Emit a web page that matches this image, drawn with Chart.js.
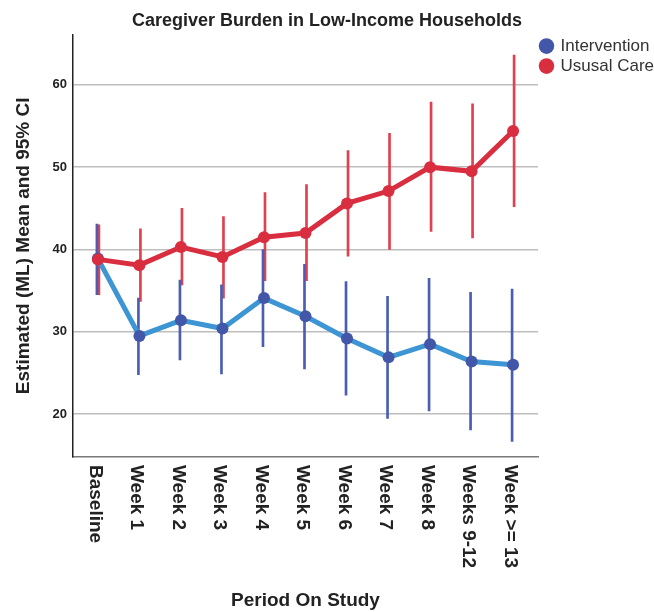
<!DOCTYPE html>
<html>
<head>
<meta charset="utf-8">
<script src="https://cdn.jsdelivr.net/npm/chart.js@4.4.1/dist/chart.umd.min.js"></script>
<style>
  html, body { margin: 0; padding: 0; background: #fff; }
  #wrap { width: 654px; height: 612px; position: relative; }
</style>
</head>
<body>
<div id="wrap"><canvas id="burdenChart"></canvas></div>
<script>
// Period categories and estimated means with 95% CI
const periods = ['Baseline', 'Week 1', 'Week 2', 'Week 3', 'Week 4', 'Week 5', 'Week 6', 'Week 7', 'Week 8', 'Weeks 9-12', 'Week >= 13'];

const interventionMean = [38.9, 29.5, 31.4, 30.4, 34.1, 31.9, 29.2, 26.9, 28.5, 26.4, 26.0];
const interventionLow = [34.5, 24.8, 26.6, 24.9, 28.2, 25.5, 22.3, 19.5, 20.4, 18.1, 16.7];
const interventionHigh = [43.1, 34.1, 36.3, 35.7, 40.0, 38.2, 36.1, 34.3, 36.5, 34.8, 35.2];

const usualMean = [38.8, 38.1, 40.3, 39.1, 41.5, 42.0, 45.6, 47.1, 50.0, 49.5, 54.4];
const usualLow = [34.5, 33.7, 35.7, 34.1, 36.2, 36.2, 39.2, 40.0, 42.2, 41.4, 45.2];
const usualHigh = [43.0, 42.5, 45.0, 44.0, 46.9, 47.9, 52.0, 54.1, 57.9, 57.7, 63.6];

const yTicks = [20, 30, 40, 50, 60];

const FONT = 'Arial, "Liberation Sans", Helvetica, sans-serif';
const TEXT = '#222';

const toPoints = (vals) => vals.map((v, i) => ({ x: i, y: v }));
const toRanges = (lo, hi) => lo.map((v, i) => ({ x: i, y: [v, hi[i]] }));

// category labels read top-to-bottom (rotated clockwise), so draw them here
const periodLabels = {
  id: 'periodLabels',
  afterDraw(chart) {
    const { ctx, chartArea } = chart;
    const xScale = chart.scales.x;
    ctx.save();
    ctx.font = `bold 19px ${FONT}`;
    ctx.fillStyle = TEXT;
    ctx.textAlign = 'left';
    ctx.textBaseline = 'middle';
    periods.forEach((label, i) => {
      const x = xScale.getPixelForValue(i) - 3;
      ctx.save();
      ctx.translate(x, chartArea.bottom + 8);
      ctx.rotate(Math.PI / 2);
      ctx.fillText(label, 0, 0);
      ctx.restore();
    });
    ctx.restore();
  },
};

function initChart() {
  const ctx = document.getElementById('burdenChart');

  new Chart(ctx, {
    type: 'line',
    data: {
      datasets: [
        {
          label: 'Intervention',
          data: toPoints(interventionMean),
          borderColor: '#3d95d3',
          backgroundColor: '#4357a8',
          pointBackgroundColor: '#4357a8',
          pointBorderWidth: 0,
          pointRadius: 6,
          borderWidth: 5,
          tension: 0,
          order: 1,
        },
        {
          label: 'Ususal Care',
          data: toPoints(usualMean),
          borderColor: '#d92e3f',
          backgroundColor: '#d92e3f',
          pointBackgroundColor: '#d92e3f',
          pointBorderWidth: 0,
          pointRadius: 6,
          borderWidth: 5,
          tension: 0,
          order: 0,
        },
        {
          type: 'bar',
          label: 'Intervention CI',
          data: toRanges(interventionLow, interventionHigh),
          backgroundColor: '#4a5db2',
          barThickness: 2,
          borderWidth: 0,
          order: 2,
        },
        {
          type: 'bar',
          label: 'Usual Care CI',
          data: toRanges(usualLow, usualHigh),
          backgroundColor: '#e0404f',
          barThickness: 2,
          borderWidth: 0,
          order: 3,
        },
      ],
    },
    options: {
      responsive: true,
      maintainAspectRatio: false,
      animation: false,
      layout: { padding: 0 },
      scales: {
        x: {
          type: 'linear',
          min: -0.6,
          max: 10.6,
          offset: false,
          grid: { display: false, drawTicks: false },
          border: { color: '#7a7a7a', width: 1.5 },
          ticks: { display: false, stepSize: 1 },
          title: {
            display: true,
            text: 'Period On Study',
            color: TEXT,
            font: { family: FONT, size: 19, weight: 'bold' },
            padding: { top: 0, bottom: 0 },
          },
          afterFit: (scale) => { scale.height = 155; },
        },
        y: {
          min: 14.8,
          max: 66.1,
          afterBuildTicks: (scale) => { scale.ticks = yTicks.map((v) => ({ value: v })); },
          grid: { color: '#bdbdbd', lineWidth: 1.5, drawTicks: false },
          border: { color: '#222', width: 1.5 },
          ticks: {
            color: TEXT,
            padding: 6,
            font: { family: FONT, size: 13, weight: 'bold' },
          },
          title: {
            display: true,
            text: 'Estimated (ML) Mean and 95% CI',
            color: TEXT,
            font: { family: FONT, size: 19, weight: 'bold' },
            padding: { top: 12, bottom: 0 },
          },
          afterFit: (scale) => { scale.width = 73; },
        },
      },
      plugins: {
        title: {
          display: true,
          text: 'Caregiver Burden in Low-Income Households',
          color: TEXT,
          font: { family: FONT, size: 18, weight: 'bold' },
          padding: { top: 10, bottom: 3 },
        },
        legend: {
          position: 'right',
          align: 'start',
          fullSize: false,
          maxWidth: 116,
          labels: {
            usePointStyle: true,
            pointStyle: 'circle',
            boxWidth: 11,
            boxHeight: 11,
            padding: 3,
            color: '#333',
            font: { family: FONT, size: 17 },
            filter: (item) => item.datasetIndex < 2,
            sort: (a, b) => a.datasetIndex - b.datasetIndex,
          },
        },
        tooltip: { enabled: false },
      },
    },
    plugins: [periodLabels],
  });
}

document.addEventListener('DOMContentLoaded', initChart);
</script>
</body>
</html>
